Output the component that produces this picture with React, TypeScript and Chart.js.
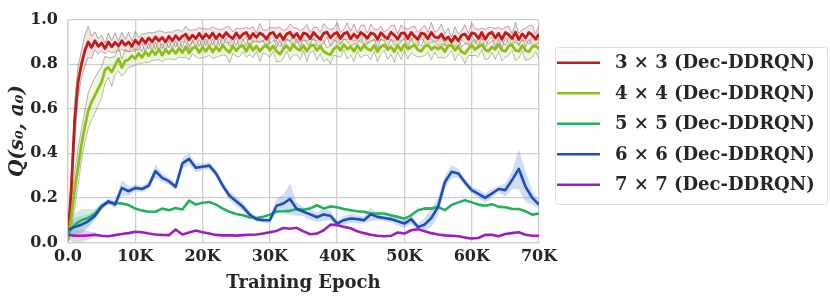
import React, { useEffect, useRef } from "react";
import { Chart, registerables } from "chart.js";

Chart.register(...registerables);

// Epoch spacing of the recorded values
const DENSE_STEP = 500; // 3x3 and 4x4 curves
const COARSE_STEP = 1000; // 5x5, 6x6, 7x7 curves

const LABELS = [
  "3 × 3 (Dec-DDRQN)",
  "4 × 4 (Dec-DDRQN)",
  "5 × 5 (Dec-DDRQN)",
  "6 × 6 (Dec-DDRQN)",
  "7 × 7 (Dec-DDRQN)",
];

const X_TICKS = [0, 10000, 20000, 30000, 40000, 50000, 60000, 70000];
const X_TICK_LABELS = ["0.0", "10K", "20K", "30K", "40K", "50K", "60K", "70K"];
const Y_TICKS = [0, 0.2, 0.4, 0.6, 0.8, 1.0];

const red3 = [
  0.02, 0.25, 0.55, 0.72, 0.8, 0.86, 0.9, 0.875, 0.905, 0.88, 0.895,
  0.87, 0.9, 0.878, 0.898, 0.882, 0.905, 0.885, 0.9, 0.88, 0.908,
  0.89, 0.915, 0.895, 0.918, 0.9, 0.922, 0.905, 0.92, 0.9, 0.925,
  0.905, 0.928, 0.91, 0.925, 0.935, 0.91, 0.93, 0.915, 0.938, 0.915,
  0.935, 0.918, 0.94, 0.915, 0.935, 0.92, 0.942, 0.925, 0.915, 0.94,
  0.918, 0.935, 0.942, 0.915, 0.938, 0.92, 0.94, 0.93, 0.912, 0.937,
  0.942, 0.918, 0.936, 0.91, 0.935, 0.943, 0.92, 0.938, 0.912, 0.94,
  0.935, 0.915, 0.942, 0.925, 0.912, 0.938, 0.944, 0.918, 0.935, 0.942,
  0.915, 0.937, 0.943, 0.914, 0.935, 0.918, 0.942, 0.932, 0.916, 0.94,
  0.935, 0.912, 0.941, 0.925, 0.915, 0.943, 0.93, 0.912, 0.938, 0.94,
  0.915, 0.942, 0.925, 0.912, 0.94, 0.935, 0.915, 0.943, 0.922, 0.918,
  0.935, 0.91, 0.922, 0.9, 0.925, 0.905, 0.93, 0.935, 0.912, 0.94,
  0.936, 0.915, 0.942, 0.912, 0.935, 0.943, 0.918, 0.938, 0.912, 0.942,
  0.932, 0.915, 0.943, 0.91, 0.936, 0.918, 0.942, 0.93, 0.912, 0.935,
];
const red3Std = [
  0.01, 0.06, 0.09, 0.07, 0.06, 0.07, 0.07, 0.05, 0.04, 0.035, 0.035,
  0.024, 0.04, 0.028, 0.043, 0.022, 0.038, 0.026, 0.044, 0.023, 0.039,
  0.03, 0.021, 0.042, 0.025, 0.04, 0.022, 0.045, 0.027, 0.041, 0.02,
  0.038, 0.024, 0.044, 0.021, 0.036, 0.043, 0.023, 0.04, 0.026, 0.045,
  0.022, 0.041, 0.027, 0.045, 0.02, 0.039, 0.025, 0.043, 0.03, 0.021,
  0.042, 0.026, 0.022, 0.044, 0.031, 0.02, 0.043, 0.024, 0.04, 0.028,
  0.021, 0.044, 0.03, 0.041, 0.022, 0.037, 0.045, 0.024, 0.039, 0.02,
  0.043, 0.027, 0.022, 0.041, 0.03, 0.045, 0.021, 0.038, 0.025, 0.044,
  0.028, 0.02, 0.042, 0.034, 0.045, 0.023, 0.031, 0.044, 0.024, 0.039,
  0.022, 0.043, 0.029, 0.02, 0.041, 0.031, 0.045, 0.025, 0.038, 0.022,
  0.042, 0.024, 0.045, 0.03, 0.02, 0.039, 0.028, 0.044, 0.022, 0.036,
  0.045, 0.027, 0.04, 0.022, 0.043, 0.031, 0.02, 0.042, 0.026, 0.045,
  0.024, 0.04, 0.02, 0.044, 0.03, 0.022, 0.042, 0.027, 0.045, 0.023,
  0.039, 0.021, 0.044, 0.028, 0.02, 0.042, 0.031, 0.045, 0.024, 0.04,
];

const green4 = [
  0.01, 0.12, 0.24, 0.34, 0.44, 0.52, 0.59, 0.63, 0.66, 0.69, 0.72,
  0.775, 0.785, 0.765, 0.795, 0.825, 0.785, 0.815, 0.82, 0.838, 0.825,
  0.848, 0.83, 0.855, 0.838, 0.862, 0.842, 0.868, 0.84, 0.865, 0.848,
  0.868, 0.848, 0.872, 0.852, 0.878, 0.85, 0.872, 0.878, 0.852, 0.876,
  0.858, 0.882, 0.855, 0.878, 0.86, 0.884, 0.866, 0.852, 0.882, 0.86,
  0.878, 0.884, 0.858, 0.888, 0.862, 0.882, 0.858, 0.876, 0.886, 0.862,
  0.882, 0.858, 0.845, 0.868, 0.884, 0.862, 0.888, 0.87, 0.862, 0.884,
  0.858, 0.882, 0.886, 0.862, 0.88, 0.858, 0.848, 0.842, 0.868, 0.882,
  0.862, 0.888, 0.868, 0.878, 0.858, 0.884, 0.862, 0.886, 0.868, 0.862,
  0.884, 0.856, 0.878, 0.886, 0.866, 0.878, 0.856, 0.884, 0.862, 0.888,
  0.868, 0.878, 0.886, 0.864, 0.858, 0.88, 0.886, 0.866, 0.878, 0.868,
  0.878, 0.856, 0.882, 0.886, 0.862, 0.88, 0.855, 0.848, 0.868, 0.886,
  0.866, 0.878, 0.888, 0.866, 0.858, 0.878, 0.866, 0.888, 0.862, 0.858,
  0.882, 0.886, 0.862, 0.858, 0.884, 0.862, 0.856, 0.878, 0.882, 0.868,
];
const green4Std = [
  0.01, 0.06, 0.08, 0.08, 0.07, 0.07, 0.08, 0.08, 0.08, 0.075, 0.07,
  0.06, 0.045, 0.065, 0.04, 0.055, 0.038, 0.052, 0.035, 0.048, 0.03,
  0.042, 0.026, 0.046, 0.03, 0.044, 0.024, 0.047, 0.029, 0.043, 0.025,
  0.045, 0.028, 0.041, 0.023, 0.046, 0.031, 0.026, 0.044, 0.027, 0.047,
  0.025, 0.043, 0.03, 0.047, 0.024, 0.042, 0.028, 0.046, 0.033, 0.024,
  0.044, 0.029, 0.025, 0.046, 0.034, 0.023, 0.045, 0.027, 0.043, 0.031,
  0.024, 0.047, 0.033, 0.044, 0.025, 0.04, 0.047, 0.027, 0.042, 0.023,
  0.046, 0.03, 0.025, 0.044, 0.033, 0.047, 0.024, 0.041, 0.028, 0.046,
  0.031, 0.023, 0.045, 0.037, 0.047, 0.026, 0.034, 0.046, 0.027, 0.042,
  0.025, 0.046, 0.032, 0.023, 0.044, 0.034, 0.047, 0.028, 0.041, 0.025,
  0.045, 0.027, 0.047, 0.033, 0.023, 0.042, 0.031, 0.046, 0.025, 0.039,
  0.047, 0.03, 0.043, 0.025, 0.046, 0.034, 0.023, 0.045, 0.029, 0.047,
  0.027, 0.043, 0.023, 0.046, 0.033, 0.025, 0.045, 0.03, 0.047, 0.026,
  0.042, 0.024, 0.046, 0.031, 0.023, 0.045, 0.034, 0.047, 0.027, 0.043,
];

const green5 = [
  0.04, 0.08, 0.1, 0.11, 0.13, 0.165, 0.18, 0.177, 0.175, 0.168,
  0.152, 0.143, 0.138, 0.138, 0.152, 0.145, 0.155, 0.148, 0.188, 0.17,
  0.178, 0.182, 0.17, 0.152, 0.138, 0.128, 0.122, 0.112, 0.11, 0.115,
  0.125, 0.139, 0.14, 0.142, 0.15, 0.147, 0.153, 0.167, 0.153, 0.162,
  0.158, 0.15, 0.145, 0.14, 0.138, 0.13, 0.13, 0.13, 0.122, 0.115,
  0.107, 0.122, 0.145, 0.153, 0.152, 0.16, 0.145, 0.168, 0.18, 0.19,
  0.18, 0.17, 0.165, 0.172, 0.16, 0.158, 0.15, 0.15, 0.14, 0.125,
  0.13,
];
const green5Std = [
  0.03, 0.05, 0.05, 0.04, 0.02, 0.01, 0.005, 0.004, 0.004, 0.004,
  0.004, 0.004, 0.004, 0.004, 0.004, 0.004, 0.004, 0.004, 0.004, 0.004,
  0.004, 0.004, 0.004, 0.004, 0.004, 0.004, 0.004, 0.004, 0.004, 0.004,
  0.004, 0.004, 0.004, 0.004, 0.004, 0.004, 0.004, 0.004, 0.004, 0.004,
  0.004, 0.004, 0.004, 0.004, 0.004, 0.004, 0.004, 0.004, 0.004, 0.004,
  0.004, 0.004, 0.004, 0.004, 0.004, 0.004, 0.004, 0.004, 0.004, 0.004,
  0.004, 0.004, 0.004, 0.004, 0.004, 0.004, 0.004, 0.004, 0.004, 0.004,
  0.004,
];

const blue6 = [
  0.057, 0.07, 0.08, 0.095, 0.12, 0.16, 0.185, 0.17, 0.245, 0.23,
  0.245, 0.24, 0.255, 0.32, 0.29, 0.275, 0.25, 0.355, 0.375, 0.335,
  0.34, 0.345, 0.31, 0.255, 0.21, 0.185, 0.16, 0.125, 0.105, 0.1,
  0.1, 0.165, 0.175, 0.195, 0.15, 0.138, 0.126, 0.113, 0.126, 0.12,
  0.085, 0.1, 0.108, 0.105, 0.1, 0.127, 0.115, 0.11, 0.105, 0.095,
  0.085, 0.105, 0.07, 0.08, 0.11, 0.16, 0.27, 0.317, 0.31, 0.27,
  0.235, 0.218, 0.2, 0.22, 0.24, 0.235, 0.28, 0.33, 0.25, 0.2,
  0.17,
];
const blue6Std = [
  0.02, 0.04, 0.04, 0.03, 0.02, 0.015, 0.015, 0.015, 0.035, 0.02,
  0.015, 0.015, 0.015, 0.03, 0.02, 0.015, 0.015, 0.025, 0.025, 0.02,
  0.015, 0.015, 0.015, 0.015, 0.02, 0.02, 0.02, 0.015, 0.01, 0.01,
  0.015, 0.03, 0.04, 0.07, 0.03, 0.02, 0.025, 0.02, 0.03, 0.02,
  0.015, 0.02, 0.02, 0.02, 0.015, 0.03, 0.015, 0.015, 0.015, 0.02,
  0.02, 0.02, 0.015, 0.03, 0.04, 0.04, 0.03, 0.03, 0.02, 0.015,
  0.015, 0.02, 0.02, 0.02, 0.015, 0.03, 0.04, 0.09, 0.07, 0.03,
  0.02,
];

const purple7 = [
  0.035, 0.03, 0.03, 0.032, 0.035, 0.03, 0.028, 0.033, 0.038, 0.042,
  0.048, 0.046, 0.04, 0.036, 0.034, 0.033, 0.058, 0.036, 0.045, 0.054,
  0.046, 0.04, 0.034, 0.032, 0.032, 0.031, 0.033, 0.035, 0.036, 0.04,
  0.046, 0.052, 0.065, 0.062, 0.066, 0.05, 0.037, 0.04, 0.055, 0.08,
  0.078, 0.07, 0.064, 0.05, 0.042, 0.035, 0.03, 0.028, 0.03, 0.045,
  0.04, 0.055, 0.06, 0.05, 0.042, 0.036, 0.032, 0.03, 0.028, 0.022,
  0.018, 0.02, 0.034, 0.035, 0.028, 0.038, 0.042, 0.046, 0.035, 0.03,
  0.03,
];
const purple7Std = [
  0.02, 0.03, 0.03, 0.02, 0.01, 0.004, 0.003, 0.003, 0.003, 0.003,
  0.003, 0.003, 0.003, 0.003, 0.003, 0.003, 0.003, 0.003, 0.003, 0.003,
  0.003, 0.003, 0.003, 0.003, 0.003, 0.003, 0.003, 0.003, 0.003, 0.003,
  0.003, 0.003, 0.003, 0.003, 0.003, 0.003, 0.003, 0.003, 0.003, 0.003,
  0.003, 0.003, 0.003, 0.003, 0.003, 0.003, 0.003, 0.003, 0.003, 0.003,
  0.003, 0.003, 0.003, 0.003, 0.003, 0.003, 0.003, 0.003, 0.003, 0.003,
  0.003, 0.003, 0.003, 0.003, 0.003, 0.003, 0.003, 0.003, 0.003, 0.003,
  0.003,
];

const COLORS = ["#c21b1b", "#8dbe1c", "#22b35a", "#1c4fba", "#9c1fbd"];
const BAND_COLORS = [
  "rgba(225,150,150,0.25)",
  "rgba(195,225,140,0.28)",
  "rgba(120,200,170,0.35)",
  "rgba(110,145,210,0.32)",
  "rgba(190,130,210,0.35)",
];

const SERIF = '"DejaVu Serif", "Liberation Serif", serif';

function pts(step: number, ys: number[]) {
  return ys.map((y, i) => ({ x: i * step, y }));
}
function edge(step: number, ys: number[], sd: number[], sign: number) {
  return ys.map((y, i) => ({ x: i * step, y: y + sign * sd[i] }));
}

const legendPlugin = {
  id: "boxLegend",
  afterDraw(chart: any) {
    const ctx = chart.ctx as CanvasRenderingContext2D;
    ctx.save();
    const bx = 555.5, by = 47.5, bw = 272, bh = 157;
    ctx.fillStyle = "rgba(255,255,255,0.9)";
    ctx.strokeStyle = "#dcdcdc";
    ctx.lineWidth = 1;
    ctx.beginPath();
    if ((ctx as any).roundRect) (ctx as any).roundRect(bx, by, bw, bh, 3);
    else ctx.rect(bx, by, bw, bh);
    ctx.fill();
    ctx.stroke();
    ctx.font = `bold 18px ${SERIF}`;
    ctx.textBaseline = "middle";
    ctx.textAlign = "left";
    LABELS.forEach((lab, k) => {
      const y = 62.7 + k * 30.5;
      ctx.strokeStyle = COLORS[k];
      ctx.lineWidth = 2.5;
      ctx.beginPath();
      ctx.moveTo(557, y);
      ctx.lineTo(600, y);
      ctx.stroke();
      ctx.fillStyle = "#262626";
      ctx.fillText(lab, 615, y + 1);
    });
    ctx.restore();
  },
};

export default function App() {
  const ref = useRef<HTMLCanvasElement | null>(null);

  useEffect(() => {
    if (!ref.current) return;
    const series = [
      { m: red3, s: red3Std, step: DENSE_STEP, edgeColor: "rgba(95,95,95,0.6)" },
      { m: green4, s: green4Std, step: DENSE_STEP, edgeColor: "rgba(95,95,95,0.6)" },
      { m: green5, s: green5Std, step: COARSE_STEP, edgeColor: "rgba(0,0,0,0)" },
      { m: blue6, s: blue6Std, step: COARSE_STEP, edgeColor: "rgba(0,0,0,0)" },
      { m: purple7, s: purple7Std, step: COARSE_STEP, edgeColor: "rgba(0,0,0,0)" },
    ];
    const datasets: any[] = [];
    series.forEach((sr, k) => {
      datasets.push({
        label: LABELS[k] + " upper",
        data: edge(sr.step, sr.m, sr.s, 1),
        borderColor: sr.edgeColor,
        borderWidth: 0.8,
        backgroundColor: BAND_COLORS[k],
        fill: "+1",
        pointRadius: 0,
        tension: 0,
        order: 10,
      });
      datasets.push({
        label: LABELS[k] + " lower",
        data: edge(sr.step, sr.m, sr.s, -1),
        borderColor: sr.edgeColor,
        borderWidth: 0.8,
        backgroundColor: "rgba(0,0,0,0)",
        fill: false,
        pointRadius: 0,
        tension: 0,
        order: 10,
      });
    });
    series.forEach((sr, k) => {
      datasets.push({
        label: LABELS[k],
        data: pts(sr.step, sr.m),
        borderColor: COLORS[k],
        borderWidth: k < 2 ? 2.8 : 2.6,
        backgroundColor: COLORS[k],
        fill: false,
        pointRadius: 0,
        tension: 0,
        borderJoinStyle: "round",
        order: 4 - k,
      });
    });

    const chart = new Chart(ref.current, {
      type: "line",
      data: { datasets },
      plugins: [legendPlugin],
      options: {
        animation: false,
        responsive: false,
        events: [],
        layout: { padding: { left: 0, right: 291, top: 8.5, bottom: 0 } },
        plugins: {
          legend: { display: false },
          tooltip: { enabled: false },
        },
        scales: {
          x: {
            type: "linear",
            min: 0,
            max: 70000,
            afterFit: (s: any) => {
              s.height = 54.5;
            },
            afterBuildTicks: (s: any) => {
              s.ticks = X_TICKS.map((v) => ({ value: v }));
            },
            ticks: {
              padding: 5,
              color: "#262626",
              font: { family: SERIF, size: 16, weight: "bold" },
              maxRotation: 0,
              autoSkip: false,
              callback: (v: any) => {
                const i = X_TICKS.indexOf(Number(v));
                return i >= 0 ? X_TICK_LABELS[i] : "";
              },
            },
            grid: { color: "#cfcfcf", lineWidth: 1.3, drawTicks: false },
            border: { color: "#cfcfcf", width: 1.3 },
            title: {
              display: true,
              text: "Training Epoch",
              color: "#262626",
              font: { family: SERIF, size: 18, weight: "bold" },
              padding: { top: 0, bottom: 3 },
            },
          },
          y: {
            type: "linear",
            min: 0,
            max: 1,
            afterFit: (s: any) => {
              s.width = 68;
            },
            afterBuildTicks: (s: any) => {
              s.ticks = Y_TICKS.map((v) => ({ value: v }));
            },
            ticks: {
              padding: 10,
              color: "#262626",
              font: { family: SERIF, size: 16, weight: "bold" },
              callback: (v: any) => Number(v).toFixed(1),
            },
            grid: { color: "#cfcfcf", lineWidth: 1.3, drawTicks: false },
            border: { color: "#cfcfcf", width: 1.3 },
            title: {
              display: true,
              text: "Q(s₀, a₀)",
              color: "#262626",
              font: { family: SERIF, size: 20, weight: "bold", style: "italic" },
              padding: { top: 6, bottom: 0 },
            },
          },
        },
      },
    });
    return () => chart.destroy();
  }, []);

  return (
    <div style={{ position: "absolute", left: 0, top: 0, width: 830, height: 297, background: "#fff" }}>
      <canvas ref={ref} width={830} height={297} style={{ display: "block" }} />
    </div>
  );
}
